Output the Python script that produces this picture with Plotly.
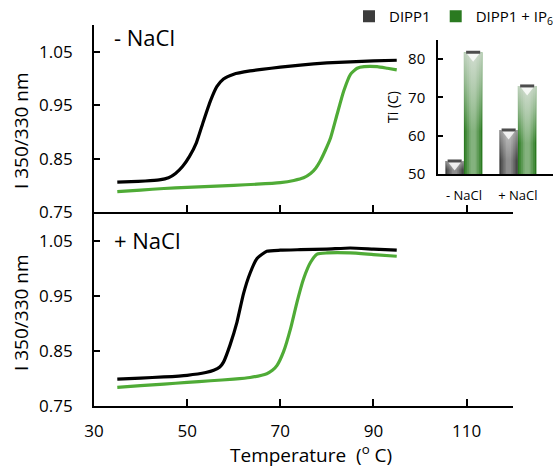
import plotly.graph_objects as go

# ---------------- data ----------------
# Top panel (- NaCl)
top_black_T = [35.0, 38.0, 41.0, 44.0, 46.0, 47.5, 49.0, 50.5, 52.0, 53.5, 55.0, 56.4, 57.8, 60.0, 63.5, 66.0, 70.0, 74.3, 80.0, 85.0, 90.0, 95.0]
top_black_I = [0.806, 0.807, 0.808, 0.810, 0.814, 0.822, 0.835, 0.854, 0.880, 0.920, 0.958, 0.985, 0.999, 1.008, 1.014, 1.017, 1.021, 1.025, 1.029, 1.031, 1.033, 1.034]
top_green_T = [35.0, 40.0, 45.0, 50.0, 55.0, 60.0, 65.0, 70.0, 72.9, 75.0, 76.5, 77.6, 78.6, 79.7, 80.8, 82.2, 83.6, 85.1, 86.5, 88.0, 90.8, 93.0, 95.0]
top_green_I = [0.788, 0.791, 0.794, 0.796, 0.798, 0.800, 0.802, 0.805, 0.809, 0.814, 0.822, 0.832, 0.846, 0.866, 0.889, 0.933, 0.976, 1.008, 1.019, 1.022, 1.022, 1.019, 1.016]

# Bottom panel (+ NaCl)
bot_black_T = [35.0, 40.0, 45.0, 50.0, 54.0, 55.7, 57.0, 57.8, 59.2, 60.7, 62.1, 63.5, 65.0, 67.1, 70.0, 74.3, 80.0, 85.0, 90.0, 95.0]
bot_black_I = [0.799, 0.801, 0.803, 0.806, 0.811, 0.815, 0.821, 0.830, 0.861, 0.903, 0.955, 0.992, 1.019, 1.032, 1.034, 1.035, 1.036, 1.038, 1.036, 1.034]
bot_green_T = [35.0, 40.0, 45.0, 50.0, 55.0, 60.0, 63.5, 67.1, 68.3, 69.3, 70.7, 72.2, 73.6, 75.0, 76.5, 77.9, 80.0, 85.0, 90.0, 95.0]
bot_green_I = [0.784, 0.787, 0.790, 0.793, 0.796, 0.799, 0.802, 0.809, 0.815, 0.824, 0.849, 0.891, 0.940, 0.982, 1.012, 1.027, 1.029, 1.029, 1.026, 1.023]

# Inset bar chart (Ti)
conditions = ["- NaCl", "+ NaCl"]
ti_dipp1 = [53.4, 61.5]
ti_dipp1_ip6 = [81.8, 73.0]

x_ticks = [30, 50, 70, 90, 110]
y_ticks = [0.75, 0.85, 0.95, 1.05]
y_ticklabels = ["0.75", "0.85", "0.95", "1.05"]
ti_ticks = [50, 60, 70, 80]

# ---------------- style ----------------
FONT = "Open Sans"
BLACK = "#000000"
GREEN = "#4fab36"
AX = "black"
W = 0.343  # bar width in category units

fig = go.Figure()

def curve(T, I, color, xa, ya):
    fig.add_trace(go.Scatter(x=T, y=I, mode="lines", xaxis=xa, yaxis=ya,
                             line=dict(color=color, width=3.2, shape="spline", smoothing=0.5),
                             showlegend=False, hoverinfo="skip"))

curve(top_black_T, top_black_I, BLACK, "x", "y")
curve(top_green_T, top_green_I, GREEN, "x", "y")
curve(bot_black_T, bot_black_I, BLACK, "x2", "y2")
curve(bot_green_T, bot_green_I, GREEN, "x2", "y2")

# ---- inset bars ----
gidx = list(range(len(conditions)))
series = [
    ("DIPP1", ti_dipp1, "#3c3c3c", -W, 0.13),
    ("DIPP1 + IP<sub>6</sub>", ti_dipp1_ip6, "#2a7a20", 0.0, 0.13),
]
for name, vals, dark, off, a in series:
    fig.add_trace(go.Bar(x=gidx, y=vals, width=W, offset=off, name=name,
                         marker=dict(color=dark, line=dict(width=0)),
                         xaxis="x3", yaxis="y3", hoverinfo="skip"))

# horizontal cylinder highlight
for name, vals, dark, off, a in series:
    for f in [0.85, 0.65, 0.45, 0.28]:
        fig.add_trace(go.Bar(x=gidx, y=vals, width=W * f, offset=off + W * (1 - f) / 2,
                             marker=dict(color=f"rgba(255,255,255,{a})", line=dict(width=0)),
                             xaxis="x3", yaxis="y3", showlegend=False, hoverinfo="skip"))

# vertical fade + top cap
for si, (name, vals, dark, off, a) in enumerate(series):
    for g, v in zip(gidx, vals):
        left = g + off
        right = left + W
        c = (left + right) / 2
        if si == 0:
            cs = [[0, "rgba(255,255,255,0)"], [0.3, "rgba(255,255,255,0.0)"], [1, "rgba(255,255,255,0.45)"]]
        else:
            cs = [[0, "rgba(235,240,235,0)"], [0.35, "rgba(235,240,235,0)"], [0.75, "rgba(225,230,225,0.55)"], [1, "rgba(230,232,230,0.8)"]]
        fig.add_trace(go.Scatter(x=[left, right, right, left, left], y=[50, 50, v, v, 50],
                                 mode="lines", line=dict(width=0), fill="toself",
                                 fillgradient=dict(type="vertical", colorscale=cs, start=50, stop=v),
                                 xaxis="x3", yaxis="y3", showlegend=False, hoverinfo="skip"))
        # V highlight
        fig.add_trace(go.Scatter(x=[left + W * 0.1, right - W * 0.1, c, left + W * 0.1],
                                 y=[v, v, v - 2.5, v], mode="lines", line=dict(width=0),
                                 fill="toself", fillcolor="rgba(255,255,255,0.8)",
                                 xaxis="x3", yaxis="y3", showlegend=False, hoverinfo="skip"))
        # cap
        fig.add_trace(go.Scatter(x=[left + W * 0.12, right - W * 0.12], y=[v, v], mode="lines",
                                 line=dict(color="#4d4d4d", width=3),
                                 xaxis="x3", yaxis="y3", showlegend=False, hoverinfo="skip"))

common_x = dict(range=[30, 120], tickvals=x_ticks, ticks="inside", ticklen=7,
                tickwidth=2, tickcolor=AX, showline=True, linecolor=AX, linewidth=2,
                showgrid=True, gridcolor="rgba(0,0,0,0)", tickfont=dict(family=FONT, size=17, color="#000"))
common_y = dict(range=[0.75, 1.10], tickvals=y_ticks, ticktext=y_ticklabels, ticks="inside", ticklen=6,
                tickwidth=2, tickcolor=AX, showline=True, linecolor=AX, linewidth=2,
                showgrid=True, gridcolor="rgba(0,0,0,0)", tickfont=dict(family=FONT, size=17, color="#000"),
                ticklabelstandoff=16)

fig.update_layout(
    template="none",
    width=553, height=469,
    margin=dict(l=0, r=0, t=0, b=0, autoexpand=False),
    paper_bgcolor="white", plot_bgcolor="rgba(0,0,0,0)",
    barmode="overlay",
    font=dict(family=FONT, color="#000"),
    xaxis=dict(domain=[0.170, 0.928], anchor="y", showticklabels=False, **common_x),
    yaxis=dict(domain=[0.548, 0.9467], anchor="x", **common_y),
    xaxis2=dict(domain=[0.170, 0.928], anchor="y2", showticklabels=True, ticklabelstandoff=9, **common_x),
    yaxis2=dict(domain=[0.1343, 0.5437], anchor="x2", **common_y),
    xaxis3=dict(domain=[0.792, 1.0], anchor="y3", range=[-0.48, 1.65], tickvals=gidx, ticktext=conditions,
                ticks="", showline=True, linecolor=AX, linewidth=1.5, showgrid=False, zeroline=False,
                tickfont=dict(family=FONT, size=13, color="#000"), ticklabelstandoff=9),
    yaxis3=dict(domain=[0.629, 0.9147], anchor="x3", range=[50, 85], tickvals=ti_ticks, ticks="inside",
                ticklen=5, tickwidth=1.5, tickcolor=AX, showline=True, linecolor=AX, linewidth=1.5,
                showgrid=True, gridcolor="rgba(0,0,0,0)",
                tickfont=dict(family=FONT, size=15, color="#000"), ticklabelstandoff=8),
    legend=dict(orientation="h", x=1.0 + 5 / 553, y=1.0, xanchor="right", yanchor="top",
                font=dict(family=FONT, size=15, color="#000"), itemwidth=30,
                bgcolor="rgba(0,0,0,0)", traceorder="normal"),
    annotations=[
        dict(text="- NaCl", x=112 / 553, y=1 - 37 / 469, xref="paper", yref="paper",
             xanchor="left", yanchor="middle", showarrow=False, font=dict(family=FONT, size=22)),
        dict(text="+ NaCl", x=112 / 553, y=1 - 240 / 469, xref="paper", yref="paper",
             xanchor="left", yanchor="middle", showarrow=False, font=dict(family=FONT, size=22)),
        dict(text="I 350/330 nm", x=21 / 553, y=1 - 131 / 469, xref="paper", yref="paper",
             textangle=-90, xanchor="center", yanchor="middle", showarrow=False, font=dict(family=FONT, size=19)),
        dict(text="I 350/330 nm", x=21 / 553, y=1 - 313 / 469, xref="paper", yref="paper",
             textangle=-90, xanchor="center", yanchor="middle", showarrow=False, font=dict(family=FONT, size=19)),
        dict(text="Temperature  (<sup>o</sup> C)", x=311 / 553, y=1 - 454 / 469, xref="paper", yref="paper",
             xanchor="center", yanchor="middle", showarrow=False, font=dict(family=FONT, size=19)),
        dict(text="Ti (C)", x=393 / 553, y=1 - 107 / 469, xref="paper", yref="paper",
             textangle=-90, xanchor="center", yanchor="middle", showarrow=False, font=dict(family=FONT, size=14)),
    ],
)

fig.write_html("out.html")
